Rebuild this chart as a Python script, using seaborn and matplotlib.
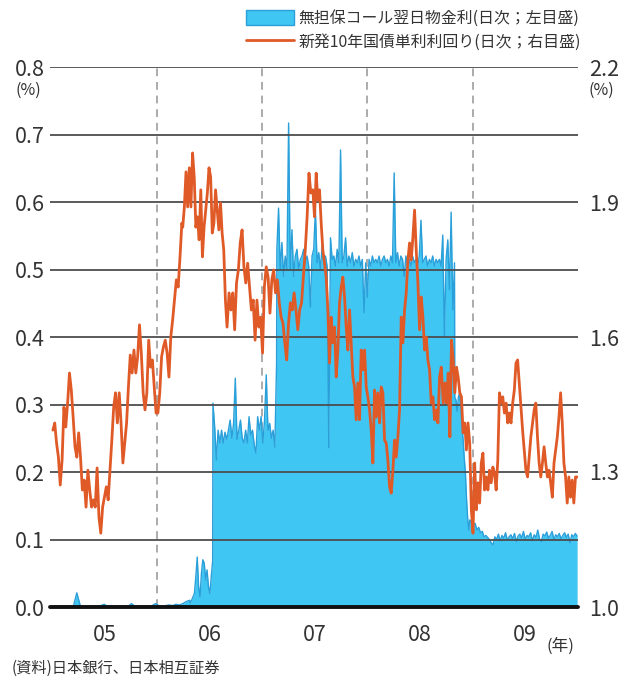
import numpy as np
import pandas as pd
import matplotlib
matplotlib.use("Agg")
import matplotlib.pyplot as plt
from matplotlib.patches import Patch
from matplotlib.lines import Line2D
import seaborn as sns

sns.set_theme(style="white")
plt.rcParams["font.family"] = ["Noto Sans CJK JP", "DejaVu Sans"]

# ---- Uncollateralized overnight call rate (daily, %, left scale) ----
call_2005_qe = [0.001, 0.001, 0.002, 0.001, 0.001, 0.002, 0.001, 0.021, 0.002, 0.001,
                0.001, 0.002, 0.001, 0.001, 0.002, 0.004, 0.001, 0.001, 0.002, 0.001,
                0.001, 0.002, 0.001, 0.005, 0.001, 0.001, 0.002, 0.001, 0.001, 0.002,
                0.005, 0.002, 0.001, 0.002, 0.003, 0.002, 0.004, 0.003, 0.005, 0.008,
                0.010]
call_2006_exit = [0.006, 0.010, 0.015, 0.020, 0.045, 0.074, 0.030, 0.015, 0.050, 0.070,
                  0.065, 0.040, 0.055, 0.030, 0.020, 0.045, 0.068]
call_025 = [0.302, 0.267, 0.218, 0.262, 0.243, 0.262, 0.243, 0.259, 0.248, 0.262,
            0.277, 0.250, 0.272, 0.339, 0.248, 0.262, 0.277, 0.250, 0.243, 0.262,
            0.243, 0.282, 0.255, 0.262, 0.240, 0.228, 0.282, 0.262, 0.282, 0.243,
            0.277, 0.344, 0.262, 0.272, 0.250, 0.262, 0.237, 0.361]
call_050 = [0.530, 0.591, 0.500, 0.540, 0.490, 0.520, 0.500, 0.717, 0.500, 0.559,
            0.490, 0.520, 0.530, 0.500, 0.515, 0.520, 0.530, 0.510, 0.520, 0.505,
            0.444, 0.520, 0.530, 0.588, 0.510, 0.525, 0.500, 0.535, 0.510, 0.520,
            0.505, 0.236, 0.547, 0.515, 0.520, 0.505, 0.530, 0.510, 0.677, 0.510,
            0.520, 0.547, 0.505, 0.520, 0.510, 0.525, 0.505, 0.515, 0.510, 0.520,
            0.505, 0.515, 0.436, 0.510, 0.459, 0.515, 0.505, 0.520, 0.510, 0.515,
            0.510, 0.520, 0.505, 0.515, 0.520, 0.510, 0.515, 0.505, 0.520, 0.510,
            0.643, 0.510, 0.525, 0.505, 0.520, 0.515, 0.490, 0.520, 0.510, 0.515,
            0.505, 0.520, 0.510, 0.515, 0.505, 0.520, 0.573, 0.510, 0.515, 0.520,
            0.505, 0.515, 0.510, 0.520, 0.505, 0.515, 0.510, 0.515, 0.505, 0.551,
            0.400, 0.515, 0.544, 0.470, 0.585, 0.440, 0.510]
call_030 = [0.310, 0.307, 0.290, 0.310, 0.317, 0.300, 0.273, 0.250, 0.222, 0.200,
            0.160, 0.130, 0.114]
call_010 = [0.129, 0.125, 0.119, 0.124, 0.114, 0.118, 0.110, 0.112, 0.104, 0.106,
            0.103, 0.100, 0.095, 0.092, 0.104, 0.100, 0.108, 0.098, 0.106, 0.102,
            0.110, 0.099, 0.104, 0.107, 0.101, 0.109, 0.097, 0.105, 0.108, 0.102,
            0.112, 0.100, 0.106, 0.104, 0.110, 0.098, 0.107, 0.103, 0.114, 0.101,
            0.097, 0.108, 0.105, 0.111, 0.102, 0.106, 0.112, 0.100, 0.107, 0.104,
            0.109, 0.101, 0.106, 0.110, 0.103, 0.108, 0.095, 0.107, 0.104, 0.109,
            0.105]

call_segments = [
    ("2005-01-04", "2006-04-24", call_2005_qe),
    ("2006-04-26", "2006-07-13", call_2006_exit),
    ("2006-07-14", "2007-02-20", call_025),
    ("2007-02-21", "2008-10-30", call_050),
    ("2008-10-31", "2008-12-19", call_030),
    ("2008-12-22", "2009-12-30", call_010),
]

# ---- Newly issued 10-year JGB yield (daily, %, right scale) ----
jgb_2005 = [1.393, 1.409, 1.364, 1.333, 1.271, 1.327, 1.444, 1.400, 1.453, 1.520,
            1.482, 1.422, 1.356, 1.333, 1.387, 1.333, 1.260, 1.282, 1.222, 1.304,
            1.260, 1.222, 1.238, 1.222, 1.309, 1.200, 1.164, 1.222, 1.244, 1.267,
            1.238, 1.304, 1.371, 1.444, 1.476, 1.409, 1.476, 1.409, 1.320, 1.364,
            1.409, 1.489, 1.560, 1.520, 1.571, 1.520, 1.556, 1.627, 1.564, 1.476,
            1.438, 1.476, 1.593, 1.533, 1.549, 1.489, 1.431, 1.431, 1.476, 1.556,
            1.578, 1.593, 1.564, 1.511, 1.600, 1.638, 1.682, 1.727, 1.711, 1.778,
            1.853]
jgb_2006a = [1.844, 1.889, 1.967, 1.889, 1.976, 1.889, 2.009, 1.956, 1.844, 1.867,
             1.816, 1.927, 1.778, 1.844, 1.882, 1.920, 1.976, 1.956, 1.831, 1.853,
             1.927, 1.882, 1.838, 1.898, 1.831, 1.793, 1.682, 1.622]
jgb_2006b = [1.698, 1.660, 1.698, 1.616, 1.720, 1.749, 1.809, 1.838, 1.756, 1.720,
             1.764, 1.711, 1.660, 1.682, 1.593, 1.682, 1.622, 1.644, 1.564, 1.711,
             1.756, 1.733, 1.653, 1.727, 1.749, 1.698, 1.727, 1.676, 1.644, 1.631,
             1.587, 1.549, 1.631, 1.676, 1.660, 1.698, 1.660, 1.616, 1.660, 1.676,
             1.733, 1.793, 1.867, 1.964, 1.920]
jgb_2007 = [1.927, 1.867, 1.964, 1.904, 1.927, 1.853, 1.793, 1.764, 1.733, 1.660,
            1.542, 1.644, 1.587, 1.622, 1.511, 1.571, 1.676, 1.711, 1.733, 1.689,
            1.622, 1.571, 1.660, 1.587, 1.511, 1.489, 1.416, 1.498, 1.416, 1.571,
            1.527, 1.571, 1.489, 1.467, 1.438, 1.393, 1.320, 1.482, 1.422, 1.476,
            1.409, 1.489, 1.476, 1.371, 1.364, 1.327, 1.267, 1.253, 1.304, 1.371,
            1.333, 1.378, 1.438, 1.644, 1.587, 1.660, 1.698, 1.771, 1.809, 1.771,
            1.822, 1.882, 1.793, 1.720, 1.616, 1.689, 1.644, 1.571, 1.600, 1.549,
            1.527, 1.453, 1.467, 1.416, 1.438, 1.409, 1.511, 1.533]
jgb_2008 = [1.453, 1.498, 1.453, 1.520, 1.378, 1.593, 1.549, 1.476, 1.533, 1.511,
            1.476, 1.467, 1.387, 1.409, 1.349, 1.409, 1.364, 1.216, 1.164, 1.320,
            1.216, 1.276, 1.231, 1.320, 1.342, 1.260, 1.289, 1.260, 1.304, 1.276,
            1.311, 1.298, 1.260, 1.327, 1.476, 1.453, 1.467, 1.431, 1.453, 1.409,
            1.431, 1.409, 1.453, 1.482, 1.542, 1.549, 1.498, 1.444, 1.393, 1.349,
            1.304, 1.289, 1.333, 1.378, 1.409, 1.438, 1.453, 1.378, 1.320, 1.289,
            1.320, 1.356, 1.320, 1.289, 1.304, 1.276, 1.244, 1.320, 1.349, 1.378,
            1.422, 1.476, 1.409, 1.320, 1.289, 1.231, 1.289, 1.244, 1.282, 1.231,
            1.289, 1.289]

jgb_segments = [
    ("2005-01-04", "2006-03-28", jgb_2005),
    ("2006-03-31", "2006-09-01", jgb_2006a),
    ("2006-09-08", "2007-06-19", jgb_2006b),
    ("2007-06-26", "2008-09-14", jgb_2007),
    ("2008-09-21", "2009-12-30", jgb_2008),
]

left_ticks = [0.0, 0.1, 0.2, 0.3, 0.4, 0.5, 0.6, 0.7, 0.8]
right_ticks = [1.0, 1.3, 1.6, 1.9, 2.2]
years = [2005, 2006, 2007, 2008, 2009]
year_labels = ["05", "06", "07", "08", "09"]

label_call = "無担保コール翌日物金利(日次；左目盛)"
label_jgb = "新発10年国債単利利回り(日次；右目盛)"
source_note = "(資料)日本銀行、日本相互証券"

FILL = "#40C6F2"
EDGE = "#2A9FD9"
ORANGE = "#E05A28"
GRID = "#4d4d4d"
TEXT = "#333333"


def build(segments):
    parts = []
    for start, end, vals in segments:
        dates = pd.date_range(start, end, periods=len(vals))
        parts.append(pd.DataFrame({"date": dates, "rate": vals}))
    return pd.concat(parts, ignore_index=True)


call = build(call_segments)
jgb = build(jgb_segments)

W, H = 628, 681
fig = plt.figure(figsize=(W / 100, H / 100), dpi=100)
ax = fig.add_axes([50 / W, 1 - 607 / H, 528 / W, 540 / H])
ax.set_xlim(pd.Timestamp("2004-12-25"), pd.Timestamp("2010-01-02"))
ax.set_ylim(0, 0.8)

# year boundaries
for y in years[1:]:
    ax.axvline(pd.Timestamp(f"{y}-01-01"), color="#ababab", lw=1.4,
               ls=(0, (4, 3)), zorder=1)

ax.fill_between(call["date"], call["rate"], 0, color=FILL, lw=0, zorder=2)
sns.lineplot(data=call, x="date", y="rate", ax=ax, color=EDGE, lw=1.0,
             zorder=3, legend=False)

for v in left_ticks[1:]:
    ax.axhline(v, color=GRID, lw=1.3, zorder=4)
ax.axhline(0, color="#111111", lw=2.8, zorder=6, clip_on=False)

for s in ax.spines.values():
    s.set_visible(False)

ax.set_yticks(left_ticks)
ax.set_yticklabels([f"{v:.1f}" for v in left_ticks])
ax.set_xticks([pd.Timestamp(f"{y}-07-02") for y in years])
ax.set_xticklabels(year_labels)
ax.tick_params(axis="y", length=0, pad=4, labelsize=15.5, colors=TEXT)
ax.tick_params(axis="x", length=0, pad=12, labelsize=15.5, colors=TEXT)
ax.set_xlabel("")
ax.set_ylabel("")

ax2 = ax.twinx()
ax2.set_ylim(1.0, 2.2)
sns.lineplot(data=jgb, x="date", y="rate", ax=ax2, color=ORANGE, lw=2.0,
             legend=False)
for s in ax2.spines.values():
    s.set_visible(False)
ax2.set_yticks(right_ticks)
ax2.set_yticklabels([f"{v:.1f}" for v in right_ticks])
ax2.tick_params(axis="y", length=0, pad=8, labelsize=15.5, colors=TEXT)
ax2.set_ylabel("")
ax2.set_xlim(ax.get_xlim())

fig.text(28 / W, 1 - 90 / H, "(%)", ha="center", va="center", fontsize=11.5, color=TEXT)
fig.text(601 / W, 1 - 90 / H, "(%)", ha="center", va="center", fontsize=11.5, color=TEXT)
fig.text(560 / W, 1 - 646 / H, "(年)", ha="center", va="center", fontsize=12, color=TEXT)
fig.text(12 / W, 1 - 668 / H, source_note, ha="left", va="center", fontsize=11, color=TEXT)

handles = [Patch(facecolor=FILL, edgecolor=EDGE, lw=1.0),
           Line2D([0], [0], color=ORANGE, lw=2.0)]
fig.legend(handles, [label_call, label_jgb], loc="upper left",
           bbox_to_anchor=(246 / W, 1 - 10 / H), frameon=False, fontsize=11.4,
           handlelength=3.0, handleheight=1.0, handletextpad=0.3,
           labelspacing=0.4, borderpad=0, borderaxespad=0,
           labelcolor=TEXT)

fig.savefig("out.png", dpi=100)
